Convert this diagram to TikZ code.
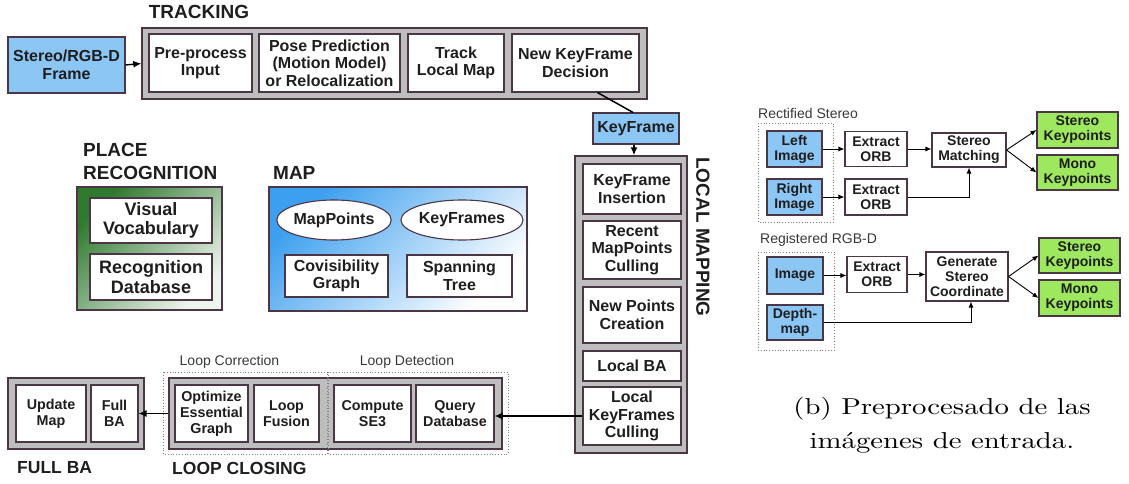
\documentclass[tikz,border=0pt]{standalone}
\usepackage{fontspec}
\newfontfamily\arial{Liberation Sans}
\newfontfamily\capfont{lmroman10-regular}[Extension=.otf, FakeStretch=1.25]
\usetikzlibrary{arrows.meta,shapes.geometric,calc}
\definecolor{edge}{HTML}{4B3645}
\definecolor{frameblue}{HTML}{8CC6F5}
\definecolor{keygreen}{HTML}{9EE860}
\definecolor{panelgray}{HTML}{BEBEBE}
\definecolor{ink}{HTML}{1E1E1E}
\definecolor{mapblue}{HTML}{3D9FEF}
\definecolor{prgreen}{HTML}{2F7A2F}
\tikzset{
  wh/.style 2 args={minimum width=#1pt, minimum height=#2pt},
  base/.style={draw=edge, line width=1.1pt, align=center, inner sep=0pt, text=ink,
    font=\arial\bfseries\fontsize{16}{17.5}\selectfont},
  box/.style={base, fill=white},
  bluebox/.style={base, fill=frameblue},
  greenbox/.style={base, fill=keygreen},
  stage/.style={draw=edge, line width=1.4pt, fill=panelgray, inner sep=0pt},
  lowtext/.style={font=\arial\bfseries\fontsize{14.3}{16}\selectfont},
  bigtext/.style={font=\arial\bfseries\fontsize{18}{19.5}\selectfont},
  smalltext/.style={font=\arial\bfseries\fontsize{14}{15}\selectfont},
  title/.style={font=\arial\bfseries\fontsize{19}{23}\selectfont, inner sep=0pt, text=ink, align=left},
  subtitle/.style={font=\arial\bfseries\fontsize{17.5}{20}\selectfont, inner sep=0pt, text=ink},
  sub/.style={font=\arial\fontsize{14}{16}\selectfont, inner sep=0pt, text=black!78},
  arr/.style={-{Latex[length=8pt,width=7pt]}, line width=1.4pt},
  sarr/.style={-{Latex[length=6pt,width=5pt]}, line width=0.9pt},
  dotbox/.style={draw=gray, dotted, line width=0.8pt},
}
\begin{document}
\begin{tikzpicture}[x=1pt, y=-1pt]
\useasboundingbox (0,0) rectangle (1129,484);

% ---------- Tracking ----------
\node[title] (trktitle) at (199,12) {TRACKING};
\node[bluebox, wh={117}{56}] (frame) at (66.5,65) {Stereo/RGB-D\\Frame};
\node[stage, wh={505}{71}] (trk) at (394.5,63.5) {};
\node[box, wh={103}{58}] (pre) at (200.5,63) {Pre-process\\Input};
\node[box, wh={141}{58}] (pose) at (329.5,63) {Pose Prediction\\(Motion Model)\\or Relocalization};
\node[box, wh={96}{58}] (track) at (456,63) {Track\\Local Map};
\node[box, wh={127}{58}] (newkf) at (575.5,63) {New KeyFrame\\Decision};
\draw[arr] (frame.east) -- (trk.west);

\node[bluebox, wh={86}{31}] (kf) at (636,128.5) {KeyFrame};
\draw[line width=1.5pt] ([xshift=22pt]newkf.south) -- ([xshift=-3pt]kf.north);

% ---------- Local mapping ----------
\node[stage, wh={112}{297}] (lm) at (631,304.5) {};
\node[box, wh={98}{50}] (kfi) at (632,189) {KeyFrame\\Insertion};
\node[box, wh={98}{58}] (rmc) at (632,250) {Recent\\MapPoints\\Culling};
\node[box, wh={98}{56}] (npc) at (632,315) {New Points\\Creation};
\node[box, wh={98}{30}] (lba) at (632,366) {Local BA};
\node[box, wh={98}{58}] (lkc) at (632,416) {Local\\KeyFrames\\Culling};
\node[title, rotate=-90] (lmtitle) at (703,237) {LOCAL MAPPING};
\draw[arr] ([xshift=-2pt]kf.south) -- ([xshift=-2pt]kf.south |- lm.north);

% ---------- Place recognition ----------
\node[title, anchor=west] (prtitle) at (83,161.5) {PLACE\\RECOGNITION};
\node[draw=edge, line width=1.2pt, wh={145}{123}, top color=prgreen, bottom color=prgreen!8,
      shading angle=45, inner sep=0pt] (pr) at (149.5,248.5) {};
\node[box, bigtext, wh={122}{45}] (vv) at (151,220.5) {Visual\\Vocabulary};
\node[box, bigtext, wh={122}{46}] (rd) at (151,277) {Recognition\\Database};

% ---------- Map ----------
\node[title, anchor=west] (maptitle) at (273,173) {MAP};
\node[draw=edge, line width=1.2pt, wh={258}{124}, top color=mapblue, bottom color=white,
      shading angle=45, inner sep=0pt] (map) at (398,249) {};
\node[box, ellipse, wh={112}{40}] (mp) at (334,220) {MapPoints};
\node[box, ellipse, wh={112}{40}] (kfs) at (462,220) {KeyFrames};
\node[box, wh={103}{42}] (cov) at (336.5,276) {Covisibility\\Graph};
\node[box, wh={105}{42}] (span) at (459.5,276) {Spanning\\Tree};

% ---------- Full BA ----------
\node[stage, wh={136}{71}] (fb) at (76,413.5) {};
\node[box, lowtext, wh={70}{57}] (um) at (51,413.5) {Update\\Map};
\node[box, lowtext, wh={47}{57}] (fba) at (114.5,413.5) {Full\\BA};
\node[subtitle, anchor=west] (fbtitle) at (17,468) {FULL BA};

% ---------- Loop closing ----------
\node[stage, wh={333}{71}] (lc) at (335.5,413.5) {};
\draw[dotbox] (163,372) rectangle (327,454);
\draw[dotbox] (328,372) rectangle (508,454);
\node[box, lowtext, wh={73}{57}] (oeg) at (211.5,413.5) {Optimize\\Essential\\Graph};
\node[box, lowtext, wh={65}{57}] (lf) at (286.5,413.5) {Loop\\Fusion};
\node[box, lowtext, wh={77}{57}] (cse) at (372.5,413.5) {Compute\\SE3};
\node[box, lowtext, wh={78}{57}] (qd) at (455,413.5) {Query\\Database};
\node[sub] (lctext) at (229.5,362) {Loop Correction};
\node[sub] (ldtext) at (407,362) {Loop Detection};
\node[subtitle, anchor=west] (lctitle) at (172,468) {LOOP CLOSING};
\draw[arr] (lkc.west) -- (lkc.west -| qd.east);
\draw[arr] (lc.west) -- (lc.west -| fba.east);

% ---------- Stereo preprocessing ----------
\node[sub, anchor=west] (rstitle) at (758,113) {Rectified Stereo};
\draw[dotbox] (758,123) rectangle (833,222);
\node[bluebox, smalltext, wh={55}{36}] (li) at (794.5,149) {Left\\Image};
\node[bluebox, smalltext, wh={55}{36}] (ri) at (794.5,197) {Right\\Image};
\node[box, smalltext, wh={62}{35}] (eo1) at (876,149) {Extract\\ORB};
\node[box, smalltext, wh={62}{36}] (eo2) at (876,197) {Extract\\ORB};
\node[box, smalltext, wh={74}{34}] (sm) at (969,150) {Stereo\\Matching};
\node[greenbox, smalltext, wh={81}{36}] (sk1) at (1077.5,130) {Stereo\\Keypoints};
\node[greenbox, smalltext, wh={81}{35}] (mk1) at (1077.5,172.5) {Mono\\Keypoints};
\draw[sarr] (li.east) -- (li.east -| eo1.west);
\draw[sarr] (eo1.east) -- (eo1.east -| sm.west);
\draw[sarr] (ri.east) -- (ri.east -| eo2.west);
\draw[sarr] (eo2.east) -| (sm.south);
\draw[sarr] (sm.east) -- (sk1.west);
\draw[sarr] (sm.east) -- (mk1.west);

% ---------- RGB-D preprocessing ----------
\node[sub, anchor=west] (rgbdtitle) at (760,240) {Registered RGB-D};
\draw[dotbox] (758,252) rectangle (834,350);
\node[bluebox, smalltext, wh={56}{37}] (im) at (795,275.5) {Image};
\node[bluebox, smalltext, wh={56}{35}] (dm) at (795,322.5) {Depth-\\map};
\node[box, smalltext, wh={60}{36}] (eo3) at (877,274.5) {Extract\\ORB};
\node[box, smalltext, wh={82}{49}] (gsc) at (967,276.5) {Generate\\Stereo\\Coordinate};
\node[greenbox, smalltext, wh={81}{35}] (sk2) at (1079.5,255.5) {Stereo\\Keypoints};
\node[greenbox, smalltext, wh={81}{36}] (mk2) at (1079.5,298) {Mono\\Keypoints};
\draw[sarr] (im.east) -- (im.east -| eo3.west);
\draw[sarr] (eo3.east) -- (eo3.east -| gsc.west);
\draw[sarr] (dm.east) -| ([xshift=4pt]gsc.south);
\draw[sarr] (gsc.east) -- (sk2.west);
\draw[sarr] (gsc.east) -- (mk2.west);

% ---------- Caption ----------
\node[align=center, inner sep=0pt, font=\capfont\fontsize{23}{34}\selectfont] (caption) at (942,425)
  {(b) Preprocesado de las\\imágenes de entrada.};
\end{tikzpicture}
\end{document}
